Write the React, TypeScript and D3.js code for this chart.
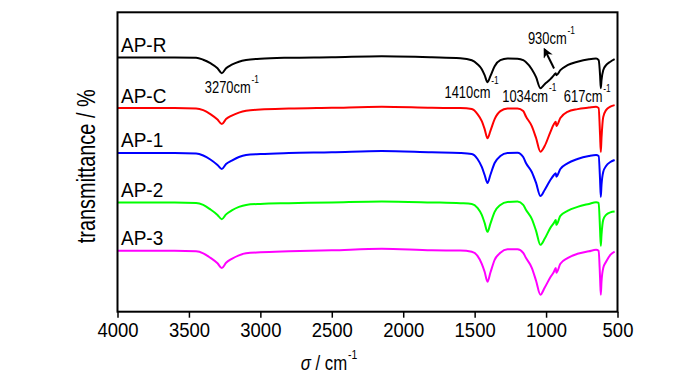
import React, { useEffect, useRef } from 'react';
import * as d3 from 'd3';

// wavenumbers (cm-1), high to low, shared by all spectra
const wavenumbers = [4000, 3800, 3600, 3450, 3400, 3350, 3300, 3270, 3240, 3200, 3150, 3100, 3000, 2800, 2500, 2150, 1800, 1600, 1520, 1480, 1450, 1430, 1410, 1390, 1360, 1320, 1270, 1200, 1160, 1140, 1100, 1070, 1040, 1010, 970, 945, 932, 928, 900, 850, 780, 700, 650, 632, 622, 617, 612, 600, 580, 550, 520];

// transmittance (arbitrary, offset per sample)
const apR = [254.7, 254.7, 254.7, 254.5, 252.5, 249, 244, 239, 244, 247.5, 250.5, 252.2, 253.5, 254.5, 255, 256, 255, 254, 252, 248, 243, 237, 230, 236, 246, 252, 253.7, 253.5, 252, 250, 243, 235, 224, 228, 233, 237, 239, 237, 242, 247, 250.5, 253, 253.7, 252, 237, 224, 232, 242, 247, 250.5, 253];
const apC = [204, 204, 204, 203.7, 202, 198, 192.5, 188, 193, 196.5, 199.5, 201.3, 202.5, 203.5, 204.3, 205.3, 204.3, 204, 203, 198, 191, 183, 173.7, 181, 193, 201, 203.5, 203.7, 201, 195.3, 186, 174, 160.3, 166, 180, 188, 190.3, 186, 194, 200.3, 203, 204.5, 205.3, 204, 177, 160, 174, 195, 202, 205.5, 207];
const ap1 = [159, 159, 159, 158.5, 156.5, 152.5, 147, 143, 148, 151.5, 155, 157, 158, 159, 159.7, 161, 159.7, 159, 158, 153, 145, 137, 129, 137, 149, 156, 159, 159.3, 155, 148.7, 140, 129, 116, 122, 132, 137, 138.7, 135.3, 143, 148.7, 153, 156, 157, 156, 132, 115, 127, 140, 146, 150, 152];
const ap2 = [109.5, 109.5, 109.5, 109, 107, 102.5, 97, 92.7, 97.5, 101.5, 105, 107, 108, 108.7, 109.5, 110.5, 109.5, 108.7, 108, 104, 97, 89, 80, 88, 100, 107, 110, 110.3, 107, 102, 93, 81, 67, 73, 84, 89, 92, 87, 96, 101, 105, 108, 109.7, 109, 82, 66, 77, 92, 97, 99.5, 100.3];
const ap3 = [61, 61, 61, 60.5, 58.5, 54, 48.5, 43.7, 49, 53, 56.5, 58.5, 59.5, 60.5, 61.5, 63, 61.5, 61.3, 60, 56, 48, 40, 30, 39, 52, 59, 62.5, 62.7, 59, 53.7, 44, 31, 17, 24, 34.5, 40, 43.7, 39, 48, 53.7, 58, 60.5, 62, 61, 34, 17, 30, 43.7, 50, 57, 60.3];

const seriesNames = ['AP-R', 'AP-C', 'AP-1', 'AP-2', 'AP-3'];
const seriesValues = [apR, apC, ap1, ap2, ap3];
const seriesColors = ['#000000', '#ff0000', '#0000ff', '#00ff00', '#ff00ff'];

const xTicks = [4000, 3500, 3000, 2500, 2000, 1500, 1000, 500];

// peak labels under the AP-R trace
const peakLabels = [
  { text: '3270cm', wn: 3270, dx: -17, t: 218.7, sup: -10 },
  { text: '1410cm', wn: 1410, dx: -43, t: 213.7, sup: -14 },
  { text: '1034cm', wn: 1034, dx: -39, t: 210.3, sup: -11 },
  { text: '617cm', wn: 617, dx: -37, t: 210.3, sup: -10 },
];

const FONT = 'Liberation Sans, Arial, sans-serif';

const App = () => {
  const ref = useRef<SVGSVGElement>(null);

  useEffect(() => {
    const svg = d3.select(ref.current);
    svg.selectAll('*').remove();

    const left = 117.5, right = 617.5, top = 12.3, bottom = 311.7;
    const x = d3.scaleLinear().domain([4000, 500]).range([left, right]);
    const y = d3.scaleLinear().domain([0, 300]).range([bottom, top]);

    const line = d3.line<number>()
      .x((d, i) => x(wavenumbers[i]))
      .y(d => y(d))
      .curve(d3.curveMonotoneX);

    svg.append('g')
      .selectAll('path')
      .data(seriesValues)
      .join('path')
      .attr('d', d => line(d))
      .attr('fill', 'none')
      .attr('stroke', (d, i) => seriesColors[i])
      .attr('stroke-width', 2)
      .attr('stroke-linejoin', 'round');

    // frame
    svg.append('rect')
      .attr('x', left).attr('y', top)
      .attr('width', right - left).attr('height', bottom - top)
      .attr('fill', 'none').attr('stroke', '#000').attr('stroke-width', 2);

    const axis = svg.append('g')
      .attr('transform', `translate(0,${bottom})`)
      .call(d3.axisBottom(x).tickValues(xTicks).tickSize(6).tickSizeOuter(0).tickPadding(4).tickFormat(d3.format('d')));
    axis.select('.domain').remove();
    axis.selectAll('line').attr('stroke', '#000').attr('stroke-width', 1.5);
    axis.selectAll('text')
      .attr('font-family', FONT)
      .attr('font-size', 21)
      .attr('fill', '#000')
      .attr('transform', 'scale(0.88,1)');

    // sample names
    svg.append('g')
      .selectAll('text')
      .data(seriesNames)
      .join('text')
      .attr('transform', (d, i) => `translate(121,${y(seriesValues[i][0]) - 5.6}) scale(0.95,1)`)
      .attr('font-family', FONT)
      .attr('font-size', 20)
      .text(d => d);

    const addLabel = (g, px: number, py: number, text: string, size: number, sx: number, supSize: number, supDy: number, italic = false) => {
      const t = g.append('text')
        .attr('transform', `translate(${px},${py}) scale(${sx},1)`)
        .attr('font-family', FONT)
        .attr('font-size', size);
      if (italic) {
        t.append('tspan').attr('font-style', 'italic').text(text[0]);
        t.append('tspan').text(text.slice(1));
      } else {
        t.append('tspan').text(text);
      }
      t.append('tspan').attr('font-size', supSize).attr('dy', supDy).attr('dx', 1).text('-1');
    };

    const ann = svg.append('g');
    peakLabels.forEach(p => addLabel(ann, x(p.wn) + p.dx, y(p.t), p.text, 17, 0.76, 11, p.sup));
    addLabel(ann, x(1034) - 13.3, y(268.7), '930cm', 17, 0.76, 11, -10);

    // arrow toward 930 shoulder
    const defs = svg.append('defs');
    defs.append('marker')
      .attr('id', 'arrowhead')
      .attr('viewBox', '0 0 10 10')
      .attr('refX', 8).attr('refY', 5)
      .attr('markerWidth', 5).attr('markerHeight', 5)
      .attr('orient', 'auto')
      .append('path').attr('d', 'M0,0 L10,5 L0,10 L3,5 Z').attr('fill', '#000');
    svg.append('line')
      .attr('x1', x(930) - 2).attr('y1', y(243.7))
      .attr('x2', x(1010)).attr('y2', y(262.7))
      .attr('stroke', '#000').attr('stroke-width', 2)
      .attr('marker-end', 'url(#arrowhead)');

    // axis titles
    addLabel(svg, 300.7, 369.5, 'σ / cm', 21, 0.8, 13, -11, true);
    svg.append('text')
      .attr('transform', `translate(95,166.3) rotate(-90) scale(0.767,1)`)
      .attr('text-anchor', 'middle')
      .attr('font-family', FONT)
      .attr('font-size', 26)
      .text('transmittance / %');
  }, []);

  return (
    <svg ref={ref} width={700} height={374} style={{ position: 'absolute', left: 0, top: 0, background: '#fff' }} />
  );
};

export default App;
